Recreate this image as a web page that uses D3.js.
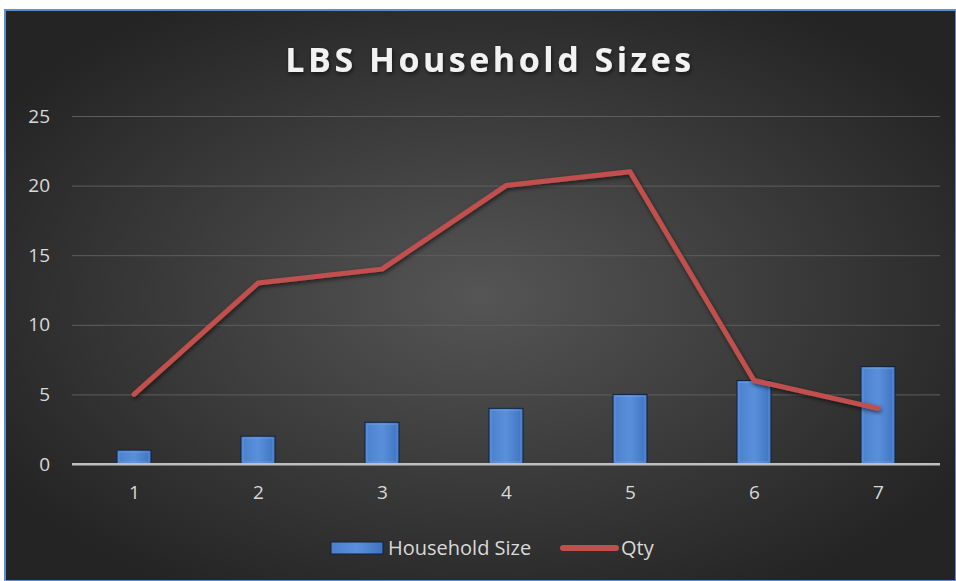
<!DOCTYPE html>
<html>
<head>
<meta charset="utf-8">
<script src="https://cdn.jsdelivr.net/npm/d3@7"></script>
<style>
  body { margin: 0; background: #fff; }
  svg { display: block; }
</style>
</head>
<body>
<div id="chart"></div>
<script>
var categories = ["1", "2", "3", "4", "5", "6", "7"];
var householdSize = [1, 2, 3, 4, 5, 6, 7];
var qty = [5, 13, 14, 20, 21, 6, 4];
var yTicks = [0, 5, 10, 15, 20, 25];

var W = 956, H = 581;
var svg = d3.select("#chart").append("svg")
    .attr("width", W)
    .attr("height", H)
    .style("font-family", "'Open Sans', sans-serif");

var defs = svg.append("defs");

// background gradient
var bg = defs.append("radialGradient")
    .attr("id", "bg")
    .attr("cx", "50%").attr("cy", "50%").attr("r", "60%");
bg.append("stop").attr("offset", "0%").attr("stop-color", "#555555");
bg.append("stop").attr("offset", "100%").attr("stop-color", "#242424");

// bar gradient
var bar = defs.append("linearGradient")
    .attr("id", "barFill")
    .attr("x1", "0").attr("y1", "0").attr("x2", "1").attr("y2", "0");
bar.append("stop").attr("offset", "0%").attr("stop-color", "#4a7fcc");
bar.append("stop").attr("offset", "50%").attr("stop-color", "#5a90db");
bar.append("stop").attr("offset", "100%").attr("stop-color", "#3e72c0");

var shadow = defs.append("filter").attr("id", "shadow")
    .attr("x", "-20%").attr("y", "-20%").attr("width", "140%").attr("height", "140%");
shadow.append("feDropShadow")
    .attr("dx", 1).attr("dy", 2).attr("stdDeviation", 2)
    .attr("flood-color", "#000").attr("flood-opacity", 0.6);

// chart frame
svg.append("rect")
    .attr("x", 5).attr("y", 10)
    .attr("width", W - 5).attr("height", H - 10)
    .attr("fill", "url(#bg)")
    .attr("stroke", "#5b8fd0")
    .attr("stroke-width", 2);

// title
svg.append("text")
    .attr("x", 490).attr("y", 72)
    .attr("text-anchor", "middle")
    .attr("fill", "#f2f2f2")
    .attr("font-size", 34)
    .attr("font-weight", "bold")
    .attr("letter-spacing", 3.5)
    .attr("filter", "url(#shadow)")
    .text("LBS Household Sizes");

var margin = { left: 72, right: 16, top: 116, bottom: 117 };
var x = d3.scaleBand()
    .domain(categories)
    .range([margin.left, W - margin.right])
    .paddingInner(0.725)
    .paddingOuter(0.3625);
var xp = d3.scalePoint()
    .domain(categories)
    .range([margin.left, W - margin.right])
    .padding(0.5);
var y = d3.scaleLinear()
    .domain([0, 25])
    .range([H - margin.bottom, margin.top]);

// gridlines + y labels
var yAxis = svg.append("g")
    .attr("transform", "translate(" + margin.left + ",0)")
    .call(d3.axisLeft(y).tickValues(yTicks)
        .tickSize(-(W - margin.left - margin.right)).tickPadding(22));
yAxis.select(".domain").remove();
yAxis.selectAll(".tick line")
    .attr("stroke", function(d) { return d === 0 ? "#bfbfbf" : "#5e5e5e"; })
    .attr("stroke-width", function(d) { return d === 0 ? 2 : 1; });
yAxis.selectAll(".tick text")
    .attr("fill", "#d9d9d9")
    .attr("font-size", 19)
    .attr("font-family", "'Open Sans', sans-serif");

// bars
svg.selectAll("rect.bar")
    .data(householdSize)
    .enter().append("rect")
    .attr("class", "bar")
    .attr("x", function(d, i) { return x(categories[i]); })
    .attr("y", function(d) { return y(d); })
    .attr("width", x.bandwidth())
    .attr("height", function(d) { return y(0) - y(d); })
    .attr("fill", "url(#barFill)")
    .attr("stroke", "#12213a")
    .attr("stroke-width", 1);

// bevel highlight
svg.selectAll("rect.bevel")
    .data(householdSize)
    .enter().append("rect")
    .attr("class", "bevel")
    .attr("x", function(d, i) { return x(categories[i]) + 2; })
    .attr("y", function(d) { return y(d) + 2; })
    .attr("width", x.bandwidth() - 4)
    .attr("height", function(d) { return Math.max(0, y(0) - y(d) - 4); })
    .attr("fill", "none")
    .attr("stroke", "#7aa8e6")
    .attr("stroke-opacity", 0.5)
    .attr("stroke-width", 1);

// redraw baseline over bars
svg.append("line")
    .attr("x1", margin.left).attr("x2", W - margin.right)
    .attr("y1", y(0)).attr("y2", y(0))
    .attr("stroke", "#bfbfbf").attr("stroke-width", 2);

// line
var line = d3.line()
    .x(function(d, i) { return xp(categories[i]); })
    .y(function(d) { return y(d); });
svg.append("path")
    .datum(qty)
    .attr("d", line)
    .attr("fill", "none")
    .attr("stroke", "#c0504d")
    .attr("stroke-width", 5)
    .attr("stroke-linecap", "round")
    .attr("stroke-linejoin", "round")
    .attr("filter", "url(#shadow)");

// x labels
var xAxis = svg.append("g")
    .attr("transform", "translate(0," + y(0) + ")")
    .call(d3.axisBottom(xp).tickSize(0).tickPadding(22));
xAxis.select(".domain").remove();
xAxis.selectAll(".tick text")
    .attr("fill", "#d9d9d9")
    .attr("font-size", 19)
    .attr("font-family", "'Open Sans', sans-serif");

// legend
var lg = svg.append("g").attr("transform", "translate(0,548)");
lg.append("rect")
    .attr("x", 331).attr("y", -6).attr("width", 52).attr("height", 12)
    .attr("fill", "url(#barFill)")
    .attr("stroke", "#12213a");
lg.append("text")
    .attr("x", 388).attr("y", 0).attr("dy", "0.35em")
    .attr("fill", "#d9d9d9").attr("font-size", 20)
    .text("Household Size");
lg.append("line")
    .attr("x1", 563).attr("x2", 616).attr("y1", 0).attr("y2", 0)
    .attr("stroke", "#c0504d").attr("stroke-width", 6)
    .attr("stroke-linecap", "round");
lg.append("text")
    .attr("x", 621).attr("y", 0).attr("dy", "0.35em")
    .attr("fill", "#d9d9d9").attr("font-size", 20)
    .text("Qty");
</script>
</body>
</html>
